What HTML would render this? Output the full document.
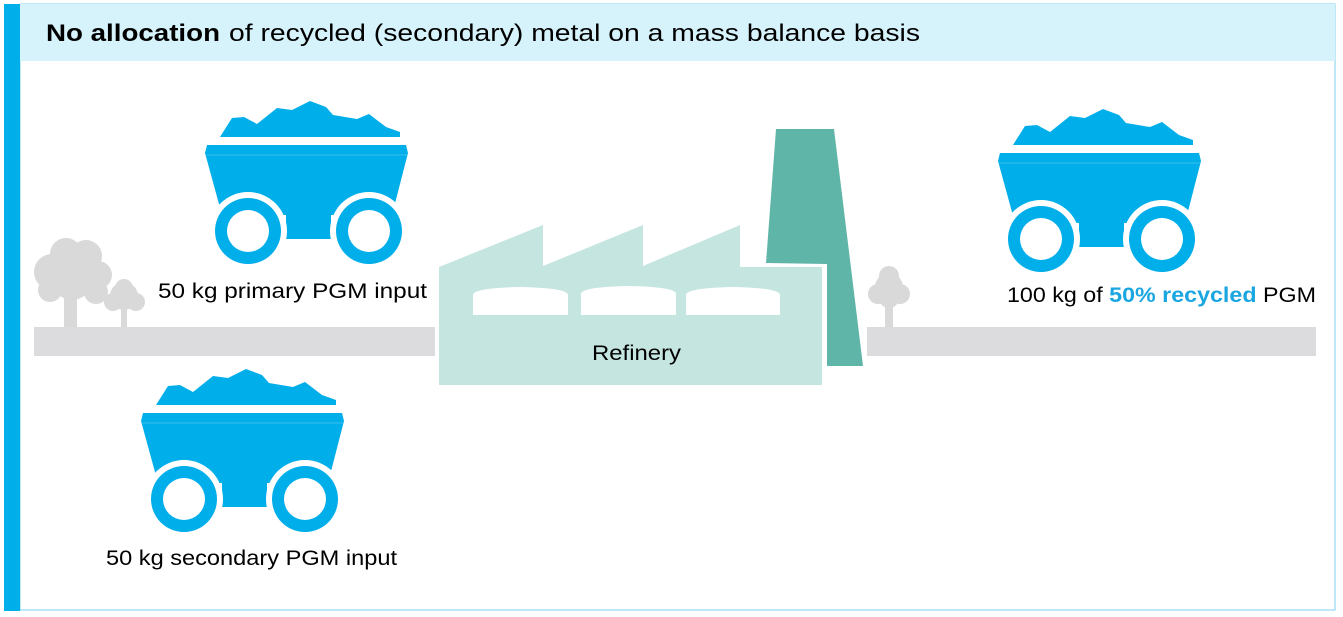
<!DOCTYPE html>
<html><head><meta charset="utf-8"><style>
html,body{margin:0;padding:0;background:#fff;}
svg{display:block;}
text{font-family:"Liberation Sans",sans-serif;}
</style></head><body>
<svg width="1343" height="617" viewBox="0 0 1343 617" xmlns="http://www.w3.org/2000/svg">
<defs>
<g id="cart">
<polygon fill="#00aeea" points="220,137 232,118 244,117 257,124 277,108 292,110 310,101 326,107 333,115 357,119 369,114 386,127 400,132 400,137"/>
<polygon fill="#00aeea" points="207,145 406,145 408,153 392,215 331,215 331,239 286,239 286,215 222,215 205,153"/>
<line x1="206" y1="155" x2="407" y2="155" stroke="#3cc0ee" stroke-width="1"/>
<circle cx="248" cy="231" r="39" fill="#fff"/>
<circle cx="369" cy="231" r="39" fill="#fff"/>
<rect x="287" y="190" width="43" height="49" fill="#00aeea"/>
<circle cx="248" cy="231" r="33" fill="#00aeea"/>
<circle cx="248" cy="231" r="21" fill="#fff"/>
<circle cx="369" cy="231" r="33" fill="#00aeea"/>
<circle cx="369" cy="231" r="21" fill="#fff"/>
</g>
</defs>
<rect x="20" y="4" width="1315" height="606" fill="#fff" stroke="#7fd0ef" stroke-width="1"/>
<rect x="20" y="4" width="1315" height="57" fill="#d6f3fb"/>
<rect x="4" y="4" width="16" height="607" fill="#00aeea"/>
<text x="46" y="41" font-size="24" font-weight="bold" fill="#000" textLength="174" lengthAdjust="spacingAndGlyphs">No allocation</text>
<text x="229" y="41" font-size="24" fill="#000" textLength="691" lengthAdjust="spacingAndGlyphs">of recycled (secondary) metal on a mass balance basis</text>

<rect x="34" y="327" width="401" height="29" fill="#dcdcde"/>
<rect x="867" y="327" width="449" height="29" fill="#dcdcde"/>
<g fill="#d9d9d9">
<circle cx="52" cy="272" r="18"/><circle cx="66" cy="254" r="16"/><circle cx="86" cy="256" r="16"/><circle cx="98" cy="275" r="14"/><circle cx="72" cy="280" r="20"/><circle cx="50" cy="290" r="12"/><circle cx="96" cy="292" r="12"/>
<rect x="64" y="285" width="13" height="42"/>
<circle cx="124" cy="296" r="14"/><circle cx="113" cy="302" r="9"/><circle cx="136" cy="302" r="9"/><circle cx="124" cy="288" r="9"/>
<rect x="121" y="300" width="6" height="27"/>
<circle cx="889" cy="287" r="14"/><circle cx="878" cy="294" r="10"/><circle cx="900" cy="294" r="10"/><circle cx="889" cy="276" r="10"/><circle cx="889" cy="298" r="10"/>
<rect x="885" y="295" width="8" height="32"/>
</g>
<polygon fill="#c5e6e0" points="439,267 543,225 543,266 643,225 643,266 740,225 740,267 822,267 822,385 439,385"/>
<g fill="#fff">
<path d="M473,295 Q473,288 520,287 Q568,288 568,295 L568,315 L473,315Z"/>
<path d="M581,294 Q581,287 628,286 Q676,287 676,294 L676,315 L581,315Z"/>
<path d="M686,295 Q686,288 733,287 Q780,288 780,295 L780,315 L686,315Z"/>
</g>
<polygon fill="#5fb5a8" points="776,129 834,129 863,366 827,366 827,264 766,263"/>
<text x="592" y="360" font-size="21" fill="#000" textLength="89" lengthAdjust="spacingAndGlyphs">Refinery</text>

<use href="#cart"/>
<use href="#cart" transform="translate(-64,268)"/>
<use href="#cart" transform="translate(793,8)"/>

<text x="158" y="298" font-size="21" fill="#000" textLength="269" lengthAdjust="spacingAndGlyphs">50 kg primary PGM input</text>
<text x="106" y="565" font-size="21" fill="#000" textLength="291" lengthAdjust="spacingAndGlyphs">50 kg secondary PGM input</text>
<text x="1007" y="302" font-size="21" fill="#000" textLength="309" lengthAdjust="spacingAndGlyphs">100 kg of <tspan fill="#1aa6e0" font-weight="bold">50% recycled</tspan> PGM</text>
</svg>
</body></html>
